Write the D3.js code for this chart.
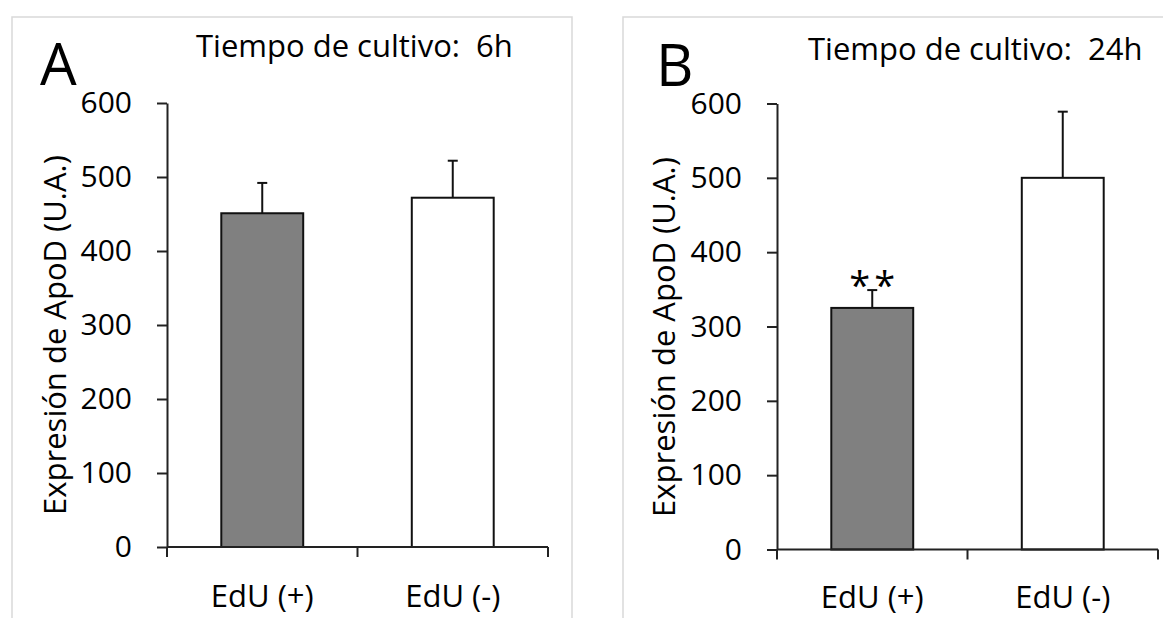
<!DOCTYPE html>
<html>
<head>
<meta charset="utf-8">
<script src="https://cdn.jsdelivr.net/npm/d3@7/dist/d3.min.js"></script>
<style>
  body { margin: 0; background: #fff; }
  text { font-family: "Open Sans", "Noto Sans", sans-serif; fill: #000; }
</style>
</head>
<body>
<svg id="chart" width="1163" height="618"></svg>
<script>
// data
const categories = ["EdU (+)", "EdU (-)"];
const panelLetters = ["A", "B"];
const panelTitles = ["Tiempo de cultivo:  6h", "Tiempo de cultivo:  24h"];
const meansA = [451, 472];
const errorsA = [41, 50];
const meansB = [325, 500];
const errorsB = [24, 89];
const marksB = ["**", ""];
const yTicks = [0, 100, 200, 300, 400, 500, 600];
const barFills = ["#808080", "#ffffff"];
const yLabel = "Expresión de ApoD (U.A.)";

const svg = d3.select("#chart");

// layout of each panel (pixels)
const panels = [
  { means: meansA, errors: errorsA, marks: ["", ""],
    frame: [12, 17], x0: 167, x1: 548, y0: 547, y1: 103,
    letter: [40, 85], title: [196, 57], ylab: [66, 335], catY: 607 },
  { means: meansB, errors: errorsB, marks: marksB,
    frame: [623, 17], x0: 777, x1: 1158, y0: 549.5, y1: 103.5,
    letter: [656, 86], title: [808, 60], ylab: [675, 337], catY: 608 }
];

panels.forEach((p, i) => {
  const g = svg.append("g");

  // light grey frame around the panel
  g.append("rect")
    .attr("x", p.frame[0])
    .attr("y", p.frame[1])
    .attr("width", 560)
    .attr("height", 640)
    .attr("fill", "none")
    .attr("stroke", "#d9d9d9")
    .attr("stroke-width", 1.5);

  const x = d3.scaleBand().domain(categories).range([p.x0, p.x1]);
  const y = d3.scaleLinear().domain([0, 600]).range([p.y0, p.y1]);
  const barW = x.bandwidth() * 0.43;

  // bars
  g.selectAll(".bar")
    .data(categories)
    .join("rect")
    .attr("x", (d) => x(d) + x.bandwidth() / 2 - barW / 2)
    .attr("y", (d, j) => y(p.means[j]))
    .attr("width", barW)
    .attr("height", (d, j) => y(0) - y(p.means[j]))
    .attr("fill", (d, j) => barFills[j])
    .attr("stroke", "#111")
    .attr("stroke-width", 2);

  // upper error bars
  const err = g.selectAll(".err").data(categories).join("g");
  err.append("line")
    .attr("x1", (d) => x(d) + x.bandwidth() / 2)
    .attr("x2", (d) => x(d) + x.bandwidth() / 2)
    .attr("y1", (d, j) => y(p.means[j]))
    .attr("y2", (d, j) => y(p.means[j] + p.errors[j]))
    .attr("stroke", "#111")
    .attr("stroke-width", 2);
  err.append("line")
    .attr("x1", (d) => x(d) + x.bandwidth() / 2 - 5)
    .attr("x2", (d) => x(d) + x.bandwidth() / 2 + 5)
    .attr("y1", (d, j) => y(p.means[j] + p.errors[j]))
    .attr("y2", (d, j) => y(p.means[j] + p.errors[j]))
    .attr("stroke", "#111")
    .attr("stroke-width", 2);

  // significance marks
  g.selectAll(".mark")
    .data(categories)
    .join("text")
    .text((d, j) => p.marks[j])
    .attr("x", (d) => x(d) + x.bandwidth() / 2 + 2)
    .attr("y", (d, j) => y(p.means[j] + p.errors[j]) + 9)
    .attr("text-anchor", "middle")
    .attr("letter-spacing", "4px")
    .attr("font-size", "38px");

  // y axis
  const yAxis = g.append("g")
    .attr("transform", `translate(${p.x0},0)`)
    .call(d3.axisLeft(y).tickValues(yTicks).tickSize(10).tickSizeOuter(0).tickPadding(25));
  yAxis.select(".domain").attr("stroke", "#222").attr("stroke-width", 2);
  yAxis.selectAll(".tick line").attr("stroke", "#222").attr("stroke-width", 2);
  yAxis.selectAll(".tick text")
    .attr("font-size", "30px")
    .attr("font-family", "Open Sans")
    .attr("fill", "#000");

  // x axis: line along zero with ticks at category boundaries
  const bounds = [p.x0, ...categories.map((d) => x(d) + x.bandwidth())];
  g.append("line")
    .attr("x1", p.x0)
    .attr("x2", p.x1)
    .attr("y1", y(0))
    .attr("y2", y(0))
    .attr("stroke", "#222")
    .attr("stroke-width", 2);
  g.selectAll(".xtick")
    .data(bounds)
    .join("line")
    .attr("x1", (d) => d)
    .attr("x2", (d) => d)
    .attr("y1", y(0))
    .attr("y2", y(0) + 10)
    .attr("stroke", "#222")
    .attr("stroke-width", 2);
  g.selectAll(".xlab")
    .data(categories)
    .join("text")
    .text((d) => d)
    .attr("x", (d) => x(d) + x.bandwidth() / 2)
    .attr("y", p.catY)
    .attr("text-anchor", "middle")
    .attr("font-size", "31px");

  // y label
  g.append("text")
    .text(yLabel)
    .attr("transform", `translate(${p.ylab[0]},${p.ylab[1]}) rotate(-90)`)
    .attr("text-anchor", "middle")
    .attr("font-size", "31px");

  // panel letter and title
  g.append("text")
    .text(panelLetters[i])
    .attr("x", p.letter[0])
    .attr("y", p.letter[1])
    .attr("font-size", "58px");
  g.append("text")
    .text(panelTitles[i])
    .attr("x", p.title[0])
    .attr("y", p.title[1])
    .attr("font-size", "31px")
    .style("white-space", "pre");
});
</script>
</body>
</html>
